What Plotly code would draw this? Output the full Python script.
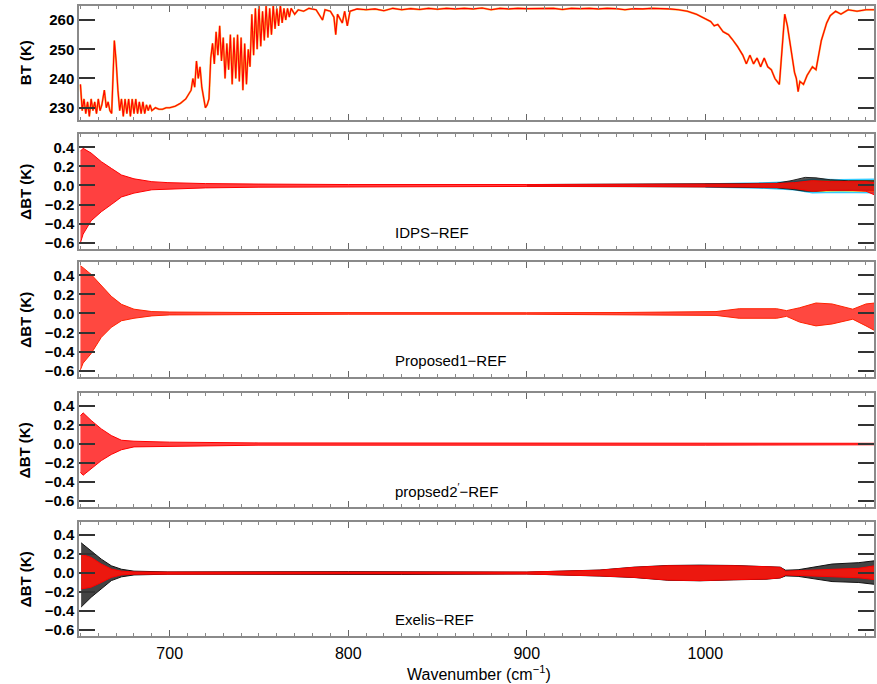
import plotly.graph_objects as go

# ---------------- data ----------------
# Panel 1: brightness temperature spectrum (K)
bt_wn = [650, 651, 652, 653, 654, 655, 656, 657, 658, 659, 660, 661, 662, 663.4, 664.5, 665.5, 666.5, 667.5,
         669, 670, 671, 672, 673, 674, 675, 676, 677, 678, 679, 680, 681, 682, 683, 684, 685, 686, 687, 688,
         689, 690, 692, 694, 696, 698, 700, 703, 706, 709, 712, 713, 714, 715, 716, 717, 718, 719, 720, 721,
         722, 723, 724, 725, 726, 727, 728, 729, 730, 731, 732, 733, 734, 735, 736, 737, 738, 739, 740, 741,
         742, 743, 744, 745, 746, 747, 748, 749, 750, 751, 752, 753, 754, 755, 756, 757, 758, 759, 760, 761,
         762, 763, 764, 765, 766, 767, 768, 770, 772, 775, 778, 782, 785.6, 787, 790, 792, 793, 794, 796.7,
         798, 799.5, 801, 805, 810, 815, 820, 825, 830, 835, 840, 845, 850, 855, 860, 865, 870, 875, 880,
         885, 890, 895, 900, 905, 910, 915, 920, 925, 930, 935, 940, 945, 950, 955, 960, 965, 970, 975, 980,
         985, 990, 995, 1000, 1003, 1005, 1007, 1010, 1013, 1015, 1018, 1021, 1023, 1025, 1027, 1029, 1031,
         1033, 1035, 1037, 1039, 1041.5, 1043, 1044.5, 1046, 1048, 1050, 1051, 1052, 1053, 1055, 1057, 1060,
         1062, 1065, 1068, 1070, 1073, 1076, 1080, 1085, 1090, 1095]
bt_val = [238, 229, 233, 228, 232, 227, 233, 229, 232, 228, 233, 229, 231, 236, 230, 232, 229, 228,
          253, 246, 236, 229, 233, 227, 233, 228, 233, 227, 233, 228, 233, 228, 232, 228, 232, 228, 231, 229,
          231, 229, 230, 229.5, 229.5, 230, 230, 230.5, 231.5, 233, 236, 240, 237, 246, 240, 244, 237, 233, 230, 231,
          233, 247, 252, 245, 256, 248, 258, 246, 254, 240, 252, 243, 255, 238, 254, 240, 255, 239, 254, 236,
          252, 238, 250, 244, 262, 248, 264, 250, 265, 251, 263, 253, 265, 254, 264, 255, 265, 257, 264, 258,
          265, 259, 264, 260, 264, 261, 264, 262, 263.5, 263, 264, 263.5, 260, 263.5, 263, 261, 255, 262, 259,
          263, 258, 263, 263.8, 263.5, 263.8, 263.2, 264, 263.5, 263.9, 263.6, 264, 263.7, 264, 263.8, 264, 263.8, 264.1, 263.5,
          264, 263.8, 264, 263.9, 264, 263.9, 264, 263.6, 264, 263.9, 264, 263.8, 264, 263.9, 263.5, 263.9, 263.8, 264, 264, 263.8,
          263.5, 263, 262, 260.5, 259.5, 258, 258.5, 256, 255, 253.5, 251, 248, 245, 248, 245, 247, 244,
          247, 244, 243, 240, 238, 250, 262, 258, 250, 242, 240, 235.5, 239, 238, 241, 244,
          243, 253, 259, 261.5, 263, 262, 263.5, 263, 263.5, 263.5]

# Panel 2: IDPS-REF envelopes (K)
idps_red_wn = [650, 651.5, 656, 661.7, 667.3, 673, 680, 690, 699, 720, 750, 800, 900, 950, 1000, 1020, 1040,
               1050, 1060, 1070, 1080, 1090, 1095]
idps_red_hi = [0.36, 0.39, 0.34, 0.25, 0.18, 0.11, 0.07, 0.04, 0.03, 0.02, 0.015, 0.01, 0.01, 0.01, 0.012, 0.015,
               0.02, 0.03, 0.05, 0.04, 0.04, 0.04, 0.03]
idps_red_lo = [-0.6, -0.51, -0.37, -0.275, -0.2, -0.12, -0.08, -0.045, -0.035, -0.025, -0.018, -0.012, -0.01,
               -0.01, -0.012, -0.015, -0.02, -0.03, -0.06, -0.05, -0.05, -0.06, -0.1]
idps_blk_wn = [900, 950, 1000, 1020, 1040, 1048, 1056, 1062, 1070, 1080, 1095]
idps_blk_hi = [0.01, 0.012, 0.015, 0.02, 0.025, 0.05, 0.085, 0.08, 0.06, 0.05, 0.05]
idps_blk_lo = [-0.01, -0.012, -0.015, -0.02, -0.025, -0.04, -0.06, -0.06, -0.05, -0.05, -0.05]
idps_cyn_wn = [1000, 1030, 1050, 1060, 1075, 1095]
idps_cyn_hi = [0.015, 0.025, 0.04, 0.065, 0.06, 0.065]
idps_cyn_lo = [-0.015, -0.025, -0.045, -0.075, -0.07, -0.075]

# Panel 3: Proposed1-REF envelopes (K)
p1_wn = [650, 651.5, 656, 661.7, 667.3, 673, 680, 690, 700, 750, 800, 900, 950, 1006, 1019, 1040, 1045.5,
         1052.8, 1062, 1071, 1082.6, 1090, 1095]
p1_hi = [0.5, 0.48, 0.41, 0.29, 0.18, 0.096, 0.045, 0.02, 0.015, 0.01, 0.008, 0.008, 0.01, 0.02, 0.05, 0.05,
         0.03, 0.06, 0.11, 0.1, 0.045, 0.1, 0.11]
p1_lo = [-0.59, -0.52, -0.42, -0.25, -0.145, -0.076, -0.05, -0.025, -0.015, -0.01, -0.008, -0.008, -0.01,
         -0.02, -0.05, -0.05, -0.03, -0.09, -0.13, -0.11, -0.06, -0.13, -0.18]

# Panel 4: propsed2'-REF envelopes (K)
p2_wn = [650, 651.5, 656, 661.7, 667.3, 673, 680, 700, 750, 1000, 1095]
p2_hi = [0.3, 0.33, 0.25, 0.16, 0.09, 0.04, 0.03, 0.02, 0.012, 0.012, 0.008]
p2_lo = [-0.3, -0.33, -0.26, -0.175, -0.11, -0.06, -0.03, -0.02, -0.012, -0.012, -0.008]

# Panel 5: Exelis-REF envelopes (K)
ex_blk_wn = [650.4, 656, 661.7, 667.3, 673, 680, 699, 800, 830, 900, 941, 960, 979, 997, 1016, 1034, 1042,
             1045, 1052, 1071, 1086, 1095]
ex_blk_hi = [0.32, 0.235, 0.147, 0.077, 0.04, 0.02, 0.012, 0.015, 0.015, 0.01, 0.032, 0.062, 0.08, 0.084,
             0.08, 0.07, 0.062, 0.03, 0.035, 0.095, 0.11, 0.13]
ex_blk_lo = [-0.36, -0.256, -0.168, -0.08, -0.04, -0.02, -0.012, -0.015, -0.015, -0.01, -0.032, -0.047,
             -0.076, -0.082, -0.072, -0.065, -0.052, -0.03, -0.035, -0.09, -0.1, -0.12]
ex_red_wn = [650.4, 656, 661.7, 667.3, 673, 680, 699, 800, 900, 941, 960, 979, 997, 1016, 1034, 1042, 1045,
             1052, 1071, 1086, 1095]
ex_red_hi = [0.2, 0.165, 0.095, 0.042, 0.02, 0.012, 0.01, 0.008, 0.01, 0.03, 0.06, 0.077, 0.08, 0.077, 0.067,
             0.06, 0.02, 0.025, 0.04, 0.05, 0.077]
ex_red_lo = [-0.168, -0.15, -0.1, -0.046, -0.02, -0.012, -0.01, -0.008, -0.01, -0.03, -0.045, -0.074, -0.08,
             -0.07, -0.063, -0.05, -0.02, -0.025, -0.04, -0.05, -0.07]

panel_labels = ["IDPS\u2212REF", "Proposed1\u2212REF", "propsed2<sup>\u2032</sup>\u2212REF", "Exelis\u2212REF"]
bt_ticks = [230, 240, 250, 260]
dbt_ticks = [-0.6, -0.4, -0.2, 0.0, 0.2, 0.4]
x_ticks = [700, 800, 900, 1000]

# ---------------- figure ----------------
W, H = 877, 684
ML, MR, MT, MB = 79, 1, 6, 48
PH = H - MT - MB
panels_px = [(6, 120), (134, 249), (262, 377), (393, 507), (522, 636)]
domains = [[(H - MB - b) / PH, (H - MB - t) / PH] for t, b in panels_px]

fig = go.Figure()

def band(wn, hi, lo, color, fill, ax, width=1.0):
    fig.add_trace(go.Scatter(x=list(wn) + list(wn)[::-1], y=list(hi) + list(lo)[::-1],
                             fill="toself", fillcolor=fill, mode="lines",
                             line=dict(color=color, width=width),
                             xaxis="x" if ax == 1 else f"x{ax}", yaxis="y" if ax == 1 else f"y{ax}",
                             showlegend=False, hoverinfo="skip"))

# panel 1
fig.add_trace(go.Scatter(x=bt_wn, y=bt_val, mode="lines", line=dict(color="rgba(255,150,0,0.8)", width=2.0),
                         showlegend=False, hoverinfo="skip"))
fig.add_trace(go.Scatter(x=bt_wn, y=bt_val, mode="lines", line=dict(color="#ff0000", width=1.1),
                         showlegend=False, hoverinfo="skip"))

# panel 2
band(idps_cyn_wn, idps_cyn_hi, idps_cyn_lo, "#33ccff", "rgba(255,220,0,0.8)", 2, width=1.5)
band(idps_blk_wn, idps_blk_hi, idps_blk_lo, "#222222", "rgba(30,30,30,0.75)", 2)
band(idps_red_wn, idps_red_hi, idps_red_lo, "#ff0000", "rgba(255,10,10,0.78)", 2)
# panel 3
band(p1_wn, p1_hi, p1_lo, "#ff2200", "rgba(255,20,10,0.78)", 3)
# panel 4
band(p2_wn, p2_hi, p2_lo, "#ff0000", "rgba(255,10,10,0.78)", 4)
# panel 5
band(ex_blk_wn, ex_blk_hi, ex_blk_lo, "#111111", "rgba(20,20,20,0.8)", 5)
band(ex_red_wn, ex_red_hi, ex_red_lo, "#ff0000", "rgba(255,20,10,0.9)", 5)

FONT = "Liberation Sans"
axis_common = dict(showline=True, linecolor="#8a8a8a", linewidth=1.5, mirror="ticks",
                   ticks="inside", showgrid=False, zeroline=False)
layout = dict(width=W, height=H, margin=dict(l=ML, r=MR, t=MT, b=MB),
              paper_bgcolor="white", plot_bgcolor="white",
              font=dict(family=FONT, size=15, color="black"))
for i in range(5):
    n = "" if i == 0 else str(i + 1)
    xa = dict(axis_common, range=[649.2, 1094.5], tickvals=x_ticks, ticklen=6, tickwidth=1.2,
              tickcolor="#666666", anchor="y" + n, domain=[0, 1],
              minor=dict(dtick=10, tick0=0, ticklen=3, tickwidth=1, tickcolor="#888888", ticks="inside"),
              showticklabels=(i == 4), tickfont=dict(size=16, family=FONT), ticklabelstandoff=2)
    if i > 0:
        xa["matches"] = "x"
    if i == 0:
        ya = dict(axis_common, range=[225.8, 264.8], tickvals=bt_ticks, ticklen=16, tickwidth=1.5,
                  tickcolor="#333333", domain=domains[i], anchor="x" + n,
                  tickfont=dict(size=15, family=FONT, weight="bold"))
    else:
        ya = dict(axis_common, range=[-0.666, 0.54], tickvals=dbt_ticks, tickformat=".1f", ticklen=16,
                  tickwidth=1.5, tickcolor="#333333", domain=domains[i], anchor="x" + n,
                  tickfont=dict(size=15, family=FONT, weight="bold"))
    layout["xaxis" + n] = xa
    layout["yaxis" + n] = ya

annotations = []
titles = ["BT (K)", "\u0394BT (K)", "\u0394BT (K)", "\u0394BT (K)", "\u0394BT (K)"]
for i, t in enumerate(titles):
    yc = (domains[i][0] + domains[i][1]) / 2
    annotations.append(dict(text=t, x=(25 - ML) / (W - ML - MR), y=yc, xref="paper", yref="paper",
                            xanchor="center", yanchor="middle", textangle=-90, showarrow=False,
                            font=dict(size=15, family=FONT, weight="bold")))
for i, t in enumerate(panel_labels):
    n = str(i + 2)
    annotations.append(dict(text=t, x=825, y=-0.49, xref="x" + n, yref="y" + n, xanchor="left",
                            yanchor="middle", showarrow=False, font=dict(size=15, family=FONT)))
annotations.append(dict(text="Wavenumber (cm<sup>\u22121</sup>)", x=(480 - ML) / (W - ML - MR),
                        y=(H - MB - 673) / PH, xref="paper", yref="paper", xanchor="center",
                        yanchor="middle", showarrow=False, font=dict(size=16, family=FONT)))
layout["annotations"] = annotations
fig.update_layout(**layout)
fig.write_html("out.html")
